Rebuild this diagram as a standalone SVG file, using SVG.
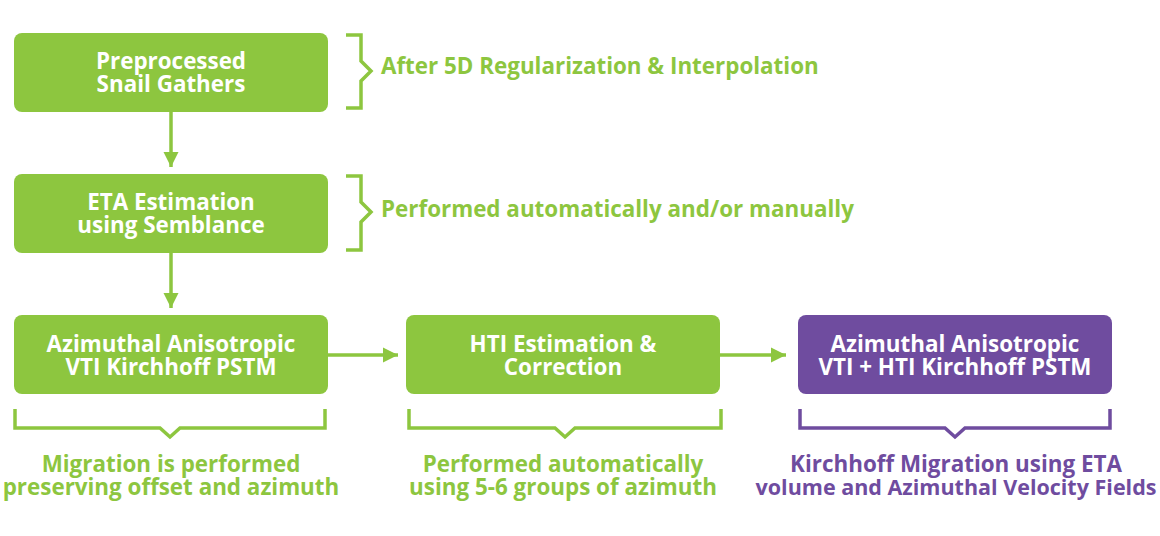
<svg xmlns="http://www.w3.org/2000/svg" width="1160" height="536" viewBox="0 0 1160 536">
<defs>
<style>
.g{fill:#8dc63f}
.p{fill:#6f4c9f}
.ln{fill:none;stroke-width:3.5}
.lg{stroke:#8dc63f}
.lp{stroke:#6f4c9f}
text{font-family:"Open Sans","Noto Sans","Liberation Sans",sans-serif;font-weight:bold;font-size:22.4px}
.bt{fill:#ffffff;text-anchor:middle}
.ng{fill:#8dc63f}
.np{fill:#6f4c9f}
.c{text-anchor:middle}
.sm{font-size:21.5px}
</style>
<marker id="ah" markerWidth="16" markerHeight="16" viewBox="0 0 16 16" refX="15" refY="8" orient="auto" markerUnits="userSpaceOnUse">
<path d="M0,0.5 L15,8 L0,15.5 Z" fill="#8dc63f"/>
</marker>
</defs>
<g id="connectors">
<line class="ln lg" x1="171" y1="112" x2="171" y2="167" marker-end="url(#ah)"/>
<line class="ln lg" x1="171" y1="253" x2="171" y2="308" marker-end="url(#ah)"/>
<line class="ln lg" x1="328" y1="355" x2="398" y2="355" marker-end="url(#ah)"/>
<line class="ln lg" x1="720" y1="355" x2="786" y2="355" marker-end="url(#ah)"/>
</g>
<g id="node1">
<rect class="g" x="14" y="33" width="314" height="79" rx="8"/>
<text class="bt" x="171" y="68.5">Preprocessed</text>
<text class="bt" x="171" y="91.5">Snail Gathers</text>
</g>
<g id="note1">
<path class="ln lg" d="M346,35 H361 V61 L371,71 L361,81 V108 H346"/>
<text class="ng" x="381" y="74">After 5D Regularization &amp; Interpolation</text>
</g>
<g id="node2">
<rect class="g" x="14" y="174" width="314" height="79" rx="8"/>
<text class="bt" x="171" y="209.5">ETA Estimation</text>
<text class="bt" x="171" y="232.5">using Semblance</text>
</g>
<g id="note2">
<path class="ln lg" d="M346,176 H361 V202 L371,212 L361,222 V250 H346"/>
<text class="ng" x="381" y="217">Performed automatically and/or manually</text>
</g>
<g id="node3">
<rect class="g" x="14" y="315" width="314" height="79" rx="8"/>
<text class="bt" x="171" y="351.5">Azimuthal Anisotropic</text>
<text class="bt" x="171" y="374.5">VTI Kirchhoff PSTM</text>
</g>
<g id="note3">
<path class="ln lg" d="M15,409 V428 H160 L170,437 L180,428 H325 V409"/>
<text class="ng c" x="171" y="472">Migration is performed</text>
<text class="ng c" x="171" y="495">preserving offset and azimuth</text>
</g>
<g id="node4">
<rect class="g" x="406" y="315" width="314" height="79" rx="8"/>
<text class="bt" x="563" y="351.5">HTI Estimation &amp;</text>
<text class="bt" x="563" y="374.5">Correction</text>
</g>
<g id="note4">
<path class="ln lg" d="M409,409 V428 H555 L565,437 L575,428 H721 V409"/>
<text class="ng c" x="563" y="472">Performed automatically</text>
<text class="ng c" x="563" y="495">using 5-6 groups of azimuth</text>
</g>
<g id="node5">
<rect class="p" x="798" y="315" width="314" height="79" rx="8"/>
<text class="bt" x="955" y="351.5">Azimuthal Anisotropic</text>
<text class="bt" x="955" y="374.5">VTI + HTI Kirchhoff PSTM</text>
</g>
<g id="note5">
<path class="ln lp" d="M800,409 V428 H945 L955,437 L965,428 H1110 V409"/>
<text class="np c" x="956" y="472">Kirchhoff Migration using ETA</text>
<text class="np c sm" x="956" y="495">volume and Azimuthal Velocity Fields</text>
</g>
</svg>
